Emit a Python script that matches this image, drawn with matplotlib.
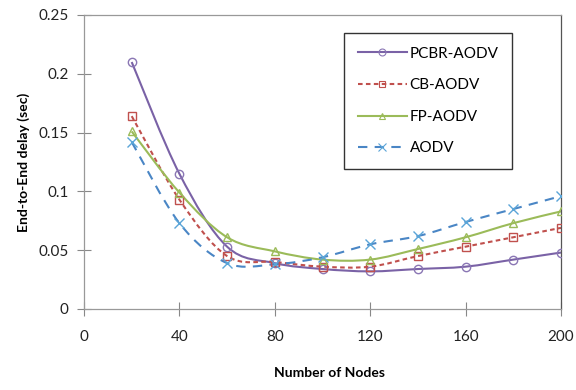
import numpy as np
import matplotlib
matplotlib.use("Agg")
import matplotlib.pyplot as plt
from matplotlib.path import Path
from matplotlib.patches import PathPatch
from matplotlib.lines import Line2D

nodes = [20, 40, 60, 80, 100, 120, 140, 160, 180, 200]
pcbr = [0.210, 0.115, 0.053, 0.039, 0.034, 0.032, 0.034, 0.036, 0.042, 0.048]
cb = [0.164, 0.093, 0.045, 0.040, 0.036, 0.036, 0.045, 0.053, 0.061, 0.069]
fp = [0.151, 0.099, 0.061, 0.049, 0.042, 0.042, 0.051, 0.061, 0.073, 0.083]
aodv = [0.142, 0.073, 0.039, 0.038, 0.044, 0.055, 0.062, 0.074, 0.085, 0.096]

labels = ["PCBR-AODV", "CB-AODV", "FP-AODV", "AODV"]
xticks = [0, 40, 80, 120, 160, 200]
yticks = [0, 0.05, 0.1, 0.15, 0.2, 0.25]

plt.rcParams['font.family'] = ['Lato', 'DejaVu Sans']

fig = plt.figure(figsize=(5.76, 3.9), dpi=100)
ax = fig.add_axes([84/576, 1 - 309/390, (561-84)/576, (309-15)/390])


def smooth_path(x, y):
    x = np.asarray(x, float)
    y = np.asarray(y, float)
    pts = np.column_stack([x, y])
    n = len(pts)
    verts = [pts[0]]
    codes = [Path.MOVETO]
    for i in range(n - 1):
        p0 = pts[i - 1] if i > 0 else pts[i]
        p1 = pts[i]
        p2 = pts[i + 1]
        p3 = pts[i + 2] if i + 2 < n else pts[i + 1]
        c1 = p1 + (p2 - p0) / 6.0
        c2 = p2 - (p3 - p1) / 6.0
        verts += [c1, c2, p2]
        codes += [Path.CURVE4] * 3
    return Path(verts, codes)


styles = [
    dict(color='#7A62A6', mcolor='#8A76B4', marker='o', ls='-', ms=6),
    dict(color='#C0504D', mcolor='#C0504D', marker='s', ls=(0, (2.2, 1.6)), ms=5.5),
    dict(color='#9BBB59', mcolor='#9BBB59', marker='^', ls='-', ms=6),
    dict(color='#4A86C5', mcolor='#5AA5D8', marker='x', ls=(0, (4.5, 3.5)), ms=7),
]
series = [pcbr, cb, fp, aodv]

handles = []
for data, st, lab in zip(series, styles, labels):
    patch = PathPatch(smooth_path(nodes, data), facecolor='none',
                      edgecolor=st['color'], lw=1.5, linestyle=st['ls'],
                      transform=ax.transData, zorder=2)
    ax.add_patch(patch)
    ax.plot(nodes, data, linestyle='none', marker=st['marker'],
            markersize=st['ms'], markerfacecolor='none',
            markeredgecolor=st['mcolor'], markeredgewidth=1.0, zorder=3)
    handles.append(Line2D([], [], color=st['color'], lw=1.5, linestyle=st['ls'],
                          marker=st['marker'], markersize=st['ms'] - 1,
                          markerfacecolor='none', markeredgecolor=st['mcolor'],
                          markeredgewidth=0.8))

ax.set_xlim(0, 200)
ax.set_ylim(0, 0.25)
ax.set_xticks(xticks)
ax.set_yticks(yticks)
ax.set_xticklabels([str(v) for v in xticks])
ax.set_yticklabels(['0', '0.05', '0.1', '0.15', '0.2', '0.25'])
ax.tick_params(direction='inout', length=10, width=0.8, color='#888888',
               labelsize=11, labelcolor='#222222', pad=4)
ax.tick_params(axis='x', pad=10)
ax.tick_params(axis='y', pad=6)
for s in ['left', 'bottom', 'top']:
    ax.spines[s].set_color('#999999')
    ax.spines[s].set_linewidth(0.9)
ax.spines['right'].set_color('#555555')
ax.spines['right'].set_linewidth(0.9)

ax.set_ylabel('End-to-End delay (sec)', fontsize=10, fontweight='bold', labelpad=6)
fig.text(330/576, 1 - 373/390, 'Number of Nodes', fontsize=10, fontweight='bold',
         ha='center', va='center')

leg = ax.legend(handles, labels, loc='upper left',
                bbox_to_anchor=(344/576, 1 - 33/390), bbox_transform=fig.transFigure,
                fontsize=11, frameon=True, fancybox=False, edgecolor='black',
                handlelength=3.2, labelspacing=1.15, borderpad=0.9,
                handletextpad=0.2, borderaxespad=0)
leg.get_frame().set_linewidth(1.0)

fig.savefig('out.png', dpi=100)
